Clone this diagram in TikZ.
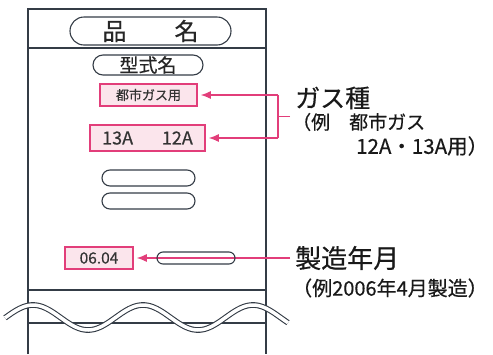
\documentclass[tikz,border=0pt]{standalone}
\usepackage{fontspec}
\setmainfont{Noto Sans CJK JP}
\newfontfamily\platefont{Noto Sans CJK JP}[FakeBold=0.45]
\usetikzlibrary{arrows.meta}
\usetikzlibrary{shapes.misc}
\definecolor{plateline}{RGB}{52,60,70}
\definecolor{markpink}{RGB}{226,62,122}
\definecolor{markfill}{RGB}{251,229,236}
\tikzset{x=1pt, y=-1pt,
plate/.style={ % Lines of the rating plate
draw=plateline,
line width=1.1pt},
pill/.style={ % Rounded fields printed on the plate
rounded rectangle,
draw=plateline,
line width=1.1pt,
inner sep=0pt,
text=black!85},
markbox/.style={ % Fields that the notes point to
rectangle,
draw=markpink,
fill=markfill,
line width=1.6pt,
inner sep=0pt,
text=black!80},
pinkline/.style={ % Leader lines
draw=markpink,
line width=1.2pt},
pinkarrow/.style={
pinkline,
-{Latex[length=10pt,width=8pt]}, % Filled head at the field
shorten >=3pt},
callout/.style={
anchor=west,
inner sep=0pt,
text=black!90}}

\begin{document}
\begin{tikzpicture}
\useasboundingbox (0,0) rectangle (493,354);
% plate outline
\draw[plate] (28,354) -- (28,9) -- (266,9) -- (266,354);
\draw[plate] (28,48) -- (266,48);
\draw[plate] (28,290) -- (266,290);
\draw[plate] (28,323) -- (266,323);
% fields on the plate
\node[pill, minimum width=161, minimum height=28, font=\fontsize{24}{26}\platefont] (title) at (150.5,31) {品　　名};
\node[pill, minimum width=110, minimum height=20, font=\fontsize{19}{21}\platefont] (model) at (148,65) {型式名};
\node[markbox, minimum width=97, minimum height=22, font=\fontsize{13}{15}\platefont] (gasbox) at (148.5,95) {都市ガス用};
\node[markbox, minimum width=115, minimum height=26, font=\fontsize{18}{20}\platefont] (typebox) at (147.5,138) {13A\hspace{1.6em}12A};
\node[pill, minimum width=93, minimum height=16] (blankA) at (148.5,178) {};
\node[pill, minimum width=93, minimum height=16] (blankB) at (148.5,201) {};
\node[markbox, minimum width=68, minimum height=22, font=\fontsize{15.5}{17}\platefont] (datebox) at (99,258) {06.04};
% notes
\node[callout, font=\fontsize{25}{27}\platefont] (gaslabel) at (295,98) {ガス種};
\node[callout, font=\fontsize{19}{21}\platefont] (gasnote) at (292,122) {（例　都市ガス};
\node[callout, font=\fontsize{20.5}{22}\platefont] (gasnote2) at (356,146) {12A・13A用）};
\node[callout, font=\fontsize{26}{28}\platefont] (datelabel) at (295,258) {製造年月};
\node[callout, font=\fontsize{20}{22}\platefont] (datenote) at (292,288) {（例2006年4月製造）};
% leaders
\coordinate (brtop) at (278,95);
\coordinate (brbot) at (278,138);
\coordinate (brstub) at (290,116.5);
\coordinate (datestub) at (290,258);
\draw[pinkline] (brtop) -- (brbot);
\draw[pinkline] (brstub) -- (brtop |- brstub);
\draw[pinkarrow] (brtop) -- (gasbox.east);
\draw[pinkarrow] (brbot) -- (typebox.east);
\draw[pinkarrow] (datestub) -- (datebox.east);
\node[pill, minimum width=78, minimum height=12] (datepill) at (196,258) {};
% break in the plate
\draw[draw=plateline, line width=1.1pt, double=white, double distance=3.5pt]
plot[domain=5:288, samples=120] (\x, {317.5 - 12.5*sin((\x-5.5)*3.2727)});
\end{tikzpicture}
\end{document}
